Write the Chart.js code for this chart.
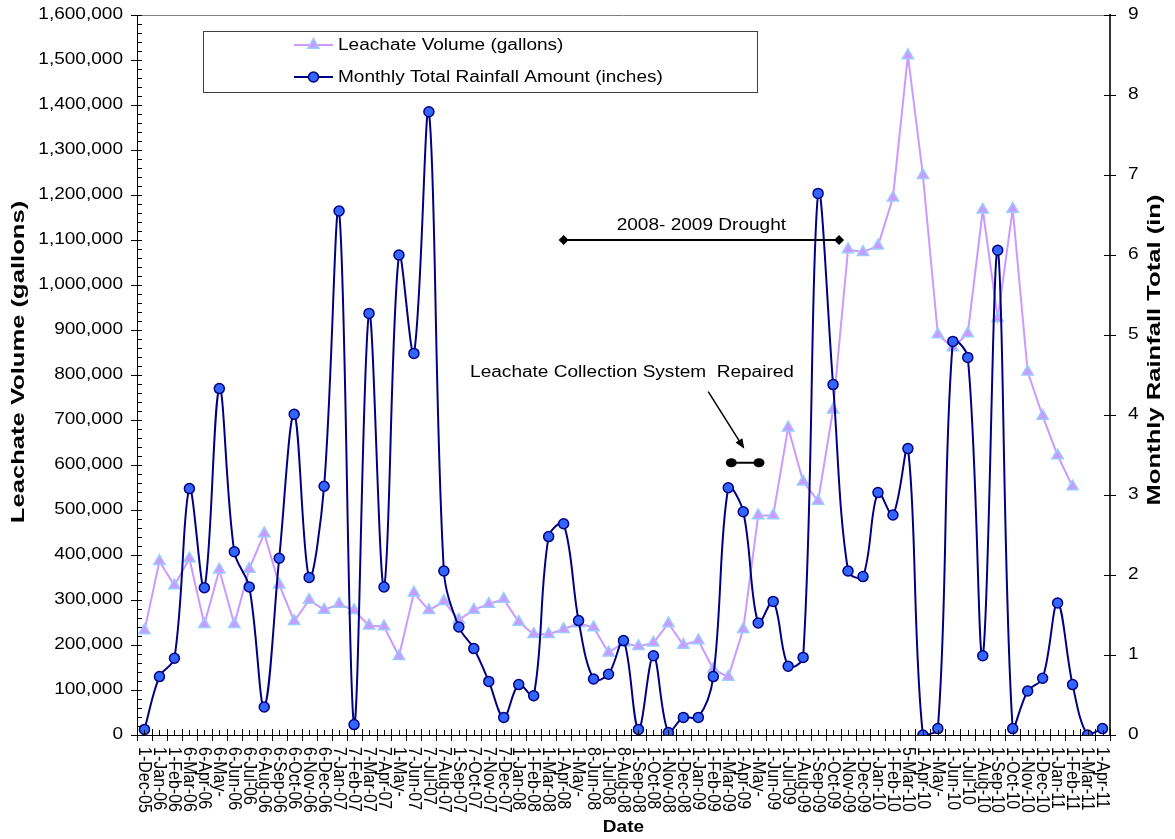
<!DOCTYPE html>
<html>
<head>
<meta charset="utf-8">
<script src="https://cdn.jsdelivr.net/npm/chart.js@4.4.1/dist/chart.umd.min.js"></script>
<style>
  html, body { margin: 0; padding: 0; background: #ffffff; }
  #wrap { width: 1175px; height: 839px; }
</style>
</head>
<body>
<div id="wrap"><canvas id="c" width="1175" height="839"></canvas></div>
<script>
// Monthly sampling dates (as written in the source workbook)
const dates = [
  '1-Dec-05',
  '1-Jan-06','1-Feb-06','6-Mar-06','6-Apr-06','6-May-','6-Jun-06','6-Jul-06','6-Aug-06','6-Sep-06','6-Oct-06','6-Nov-06','6-Dec-06',
  '7-Jan-07','7-Feb-07','7-Mar-07','7-Apr-07','1-May-','7-Jun-07','7-Jul-07','7-Aug-07','1-Sep-07','7-Oct-07','7-Nov-07','7-Dec-07',
  '1-Jan-08','1-Feb-08','1-Mar-08','1-Apr-08','1-May-','8-Jun-08','1-Jul-08','8-Aug-08','1-Sep-08','1-Oct-08','1-Nov-08','1-Dec-08',
  '1-Jan-09','1-Feb-09','1-Mar-09','1-Apr-09','1-May-','1-Jun-09','1-Jul-09','1-Aug-09','1-Sep-09','1-Oct-09','1-Nov-09','1-Dec-09',
  '1-Jan-10','1-Feb-10','5-Mar-10','1-Apr-10','1-May-','1-Jun-10','1-Jul-10','1-Aug-10','1-Sep-10','1-Oct-10','1-Nov-10','1-Dec-10',
  '1-Jan-11','1-Feb-11','1-Mar-11','1-Apr-11'
];

// Leachate volume (gallons) per month
const leachateGallons = [
  232000,
  386000, 332000, 392000, 246000, 367000, 246000, 369000, 448000, 334000, 253000, 300000, 278000,
  291000, 277000, 243000, 241000, 175000, 316000, 277000, 297000, 256000, 278000, 291000, 302000,
  251000, 224000, 224000, 235000, 248000, 239000, 183000, 205000, 197000, 205000, 248000, 200000,
  210000, 146000, 129000, 235000, 488000, 488000, 683000, 563000, 520000, 723000, 1079000, 1073000,
  1087000, 1194000, 1510000, 1244000, 890000, 861000, 892000, 1167000, 926000, 1169000, 807000, 709000,
  621000, 552000, null, null
];

// Monthly total rainfall (inches)
const rainfallInches = [
  0.07,
  0.73, 0.96, 3.08, 1.84, 4.33, 2.29, 1.85, 0.35, 2.21, 4.01, 1.97, 3.11,
  6.55, 0.13, 5.27, 1.85, 6.00, 4.77, 7.79, 2.05, 1.35, 1.08, 0.67, 0.22,
  0.63, 0.49, 2.48, 2.64, 1.43, 0.70, 0.76, 1.18, 0.07, 0.99, 0.03, 0.22,
  0.22, 0.73, 3.09, 2.79, 1.40, 1.67, 0.86, 0.97, 6.77, 4.38, 2.05, 1.98,
  3.03, 2.75, 3.58, 0.00, 0.08, 4.92, 4.72, 0.99, 6.06, 0.08, 0.55, 0.71,
  1.65, 0.63, 0.00, 0.08
];

// Axis ranges
const volumeRange = [0, 1600000];
const volumeStep = 100000;
const rainRange = [0, 9];
const rainStep = 1;

// Callouts, placed in data units (category index, gallons)
const droughtSpan = { from: 28, to: 46.4, level: 1100000, text: '2008- 2009 Drought' };
const repairSpan = { from: 39.2, to: 41.05, level: 605000 };
const repairNote = { text: 'Leachate Collection System  Repaired', at: 32.57, level: 806000,
                     arrowFrom: [37.66, 763000], arrowTo: [40.07, 636000] };

const FONT = "'Liberation Sans', Arial, Helvetica, sans-serif";
const SX = 1.19;      // horizontal glyph stretch of the exported chart
const TITLE_LEN = 1.6; // rotated axis titles run long along their baseline

function wideText(ctx, str, x, y, o) {
  ctx.save();
  ctx.translate(x, y);
  ctx.scale(SX, 1);
  if (o.rotate) ctx.rotate(o.rotate);
  if (o.along) ctx.scale(o.along, 1);
  ctx.font = o.font;
  ctx.textAlign = o.align || 'left';
  ctx.textBaseline = o.baseline || 'middle';
  ctx.fillStyle = o.color || '#000';
  ctx.fillText(str, 0, 0);
  ctx.restore();
}

const decorations = {
  id: 'decorations',
  afterDatasetsDraw(chart) {
    const ctx = chart.ctx;
    const { left, right, top, bottom } = chart.chartArea;
    const xs = chart.scales.x, ys = chart.scales.y, ys2 = chart.scales.y2;
    const reg = '16px ' + FONT;
    const bold = 'bold 16px ' + FONT;

    ctx.save();
    // top frame line
    ctx.strokeStyle = '#808080';
    ctx.lineWidth = 1;
    ctx.beginPath(); ctx.moveTo(left, top + 0.5); ctx.lineTo(right, top + 0.5); ctx.stroke();

    // left axis ticks: major crossing, minor inside
    ctx.strokeStyle = '#000';
    ctx.lineWidth = 1;
    ctx.beginPath();
    for (let v = volumeRange[0]; v <= volumeRange[1]; v += volumeStep / 5) {
      const py = Math.round(ys.getPixelForValue(v)) + 0.5;
      const major = v % volumeStep === 0;
      ctx.moveTo(left - (major ? 6 : 0), py);
      ctx.lineTo(left + 5, py);
    }
    // right axis ticks crossing
    for (let v = rainRange[0]; v <= rainRange[1]; v += rainStep) {
      const py = Math.round(ys2.getPixelForValue(v)) + 0.5;
      ctx.moveTo(right - 6, py);
      ctx.lineTo(right + 6, py);
    }
    // category axis: major ticks at boundaries, minor at centres
    const half = (xs.getPixelForValue(1) - xs.getPixelForValue(0)) / 2;
    for (let i = 0; i < dates.length; i++) {
      const cx = xs.getPixelForValue(i);
      const bx = Math.round(cx - half) + 0.5;
      ctx.moveTo(bx, bottom - 6); ctx.lineTo(bx, bottom + 6);
      const mx = Math.round(cx) + 0.5;
      ctx.moveTo(mx, bottom - 5); ctx.lineTo(mx, bottom);
    }
    const ex = Math.round(xs.getPixelForValue(dates.length - 1) + half) + 0.5;
    ctx.moveTo(ex, bottom - 6); ctx.lineTo(ex, bottom + 6);
    ctx.stroke();
    ctx.restore();

    // tick labels
    ys.ticks.forEach(t => {
      wideText(ctx, t.label, left - 14, ys.getPixelForValue(t.value), { font: reg, align: 'right' });
    });
    ys2.ticks.forEach(t => {
      wideText(ctx, t.label, right + 18, ys2.getPixelForValue(t.value), { font: reg, align: 'left' });
    });
    dates.forEach((d, i) => {
      wideText(ctx, d, xs.getPixelForValue(i), bottom + 12, { font: reg, align: 'left', rotate: Math.PI / 2 });
    });

    // axis titles
    wideText(ctx, 'Date', (left + right) / 2, 828, { font: bold, align: 'center' });
    wideText(ctx, 'Leachate Volume (gallons)', 19, 362, { font: bold, align: 'center', rotate: -Math.PI / 2, along: TITLE_LEN });
    wideText(ctx, 'Monthly Rainfall Total (in)', 1155, 350, { font: bold, align: 'center', rotate: -Math.PI / 2, along: TITLE_LEN });

    // drought span
    ctx.save();
    const dx1 = xs.getPixelForValue(droughtSpan.from), dx2 = xs.getPixelForValue(droughtSpan.to);
    const dy = ys.getPixelForValue(droughtSpan.level);
    ctx.strokeStyle = '#000'; ctx.fillStyle = '#000'; ctx.lineWidth = 2;
    ctx.beginPath(); ctx.moveTo(dx1, dy); ctx.lineTo(dx2, dy); ctx.stroke();
    [dx1, dx2].forEach(px => {
      ctx.beginPath();
      ctx.moveTo(px, dy - 5); ctx.lineTo(px + 5, dy); ctx.lineTo(px, dy + 5); ctx.lineTo(px - 5, dy);
      ctx.closePath(); ctx.fill();
    });
    ctx.restore();
    wideText(ctx, droughtSpan.text, (dx1 + dx2) / 2, dy - 14, { font: reg, align: 'center' });

    // repair span with arrow
    ctx.save();
    const rx1 = xs.getPixelForValue(repairSpan.from), rx2 = xs.getPixelForValue(repairSpan.to);
    const ry = ys.getPixelForValue(repairSpan.level);
    ctx.strokeStyle = '#000'; ctx.fillStyle = '#000'; ctx.lineWidth = 2;
    ctx.beginPath(); ctx.moveTo(rx1, ry); ctx.lineTo(rx2, ry); ctx.stroke();
    [rx1, rx2].forEach(px => { ctx.beginPath(); ctx.ellipse(px, ry, 5.5, 4.5, 0, 0, Math.PI * 2); ctx.fill(); });
    const ax1 = xs.getPixelForValue(repairNote.arrowFrom[0]), ay1 = ys.getPixelForValue(repairNote.arrowFrom[1]);
    const ax2 = xs.getPixelForValue(repairNote.arrowTo[0]), ay2 = ys.getPixelForValue(repairNote.arrowTo[1]);
    const ang = Math.atan2(ay2 - ay1, ax2 - ax1);
    ctx.lineWidth = 1.5;
    ctx.beginPath(); ctx.moveTo(ax1, ay1); ctx.lineTo(ax2 - 8 * Math.cos(ang), ay2 - 8 * Math.sin(ang)); ctx.stroke();
    ctx.beginPath();
    ctx.moveTo(ax2, ay2);
    ctx.lineTo(ax2 - 10 * Math.cos(ang) + 4 * Math.sin(ang), ay2 - 10 * Math.sin(ang) - 4 * Math.cos(ang));
    ctx.lineTo(ax2 - 10 * Math.cos(ang) - 4 * Math.sin(ang), ay2 - 10 * Math.sin(ang) + 4 * Math.cos(ang));
    ctx.closePath(); ctx.fill();
    ctx.restore();
    wideText(ctx, repairNote.text, xs.getPixelForValue(repairNote.at), ys.getPixelForValue(repairNote.level),
             { font: reg, align: 'center' });

    // legend box
    ctx.save();
    const lb = { x: 203, y: 31, w: 554, h: 61 };
    ctx.fillStyle = '#fff';
    ctx.fillRect(lb.x, lb.y, lb.w, lb.h);
    ctx.strokeStyle = '#404040'; ctx.lineWidth = 1;
    ctx.strokeRect(lb.x + 0.5, lb.y + 0.5, lb.w, lb.h);
    const rows = [45, 77];
    chart.data.datasets.forEach((ds, k) => {
      const yy = rows[k];
      ctx.strokeStyle = ds.borderColor; ctx.lineWidth = ds.borderWidth;
      ctx.beginPath(); ctx.moveTo(294, yy); ctx.lineTo(333, yy); ctx.stroke();
      ctx.fillStyle = ds.pointBackgroundColor; ctx.strokeStyle = ds.pointBorderColor; ctx.lineWidth = ds.pointBorderWidth;
      Chart.helpers.drawPoint(ctx, { pointStyle: ds.pointStyle, radius: ds.pointRadius, borderWidth: ds.pointBorderWidth, rotation: 0 }, 313.5, yy);
      wideText(ctx, ds.label, 338, yy + 1, { font: reg, align: 'left' });
    });
    ctx.restore();
  }
};

new Chart(document.getElementById('c'), {
  type: 'line',
  data: {
    labels: dates,
    datasets: [
      {
        label: 'Leachate Volume (gallons)',
        data: leachateGallons,
        yAxisID: 'y',
        order: 2,
        borderColor: '#CC99FF',
        borderWidth: 2,
        tension: 0,
        pointStyle: 'triangle',
        pointRadius: 6.5,
        pointBackgroundColor: '#CC99FF',
        pointBorderColor: '#99CCFF',
        pointBorderWidth: 1.5,
        spanGaps: false
      },
      {
        label: 'Monthly Total Rainfall Amount (inches)',
        data: rainfallInches,
        yAxisID: 'y2',
        order: 1,
        borderColor: '#000080',
        borderWidth: 2,
        tension: 0.35,
        pointStyle: 'circle',
        pointRadius: 5,
        pointBackgroundColor: '#3366FF',
        pointBorderColor: '#000080',
        pointBorderWidth: 1.5
      }
    ]
  },
  options: {
    responsive: false,
    animation: false,
    devicePixelRatio: 1,
    layout: { padding: { top: 15, left: 0, right: 0, bottom: 0 } },
    plugins: { legend: { display: false }, tooltip: { enabled: false } },
    scales: {
      x: {
        type: 'category',
        offset: true,
        grid: { display: false, drawTicks: false },
        border: { display: true, color: '#000', width: 1 },
        ticks: { display: false },
        afterFit(s) { s.height = 104; }
      },
      y: {
        position: 'left',
        min: volumeRange[0], max: volumeRange[1],
        ticks: { display: false, stepSize: volumeStep, callback: v => Number(v).toLocaleString('en-US') },
        grid: { display: false, drawTicks: false },
        border: { display: true, color: '#000', width: 1 },
        afterFit(s) { s.width = 137; }
      },
      y2: {
        position: 'right',
        min: rainRange[0], max: rainRange[1],
        ticks: { display: false, stepSize: rainStep },
        grid: { display: false, drawTicks: false },
        border: { display: true, color: '#333', width: 2 },
        afterFit(s) { s.width = 65; }
      }
    }
  },
  plugins: [decorations]
});
</script>
</body>
</html>
